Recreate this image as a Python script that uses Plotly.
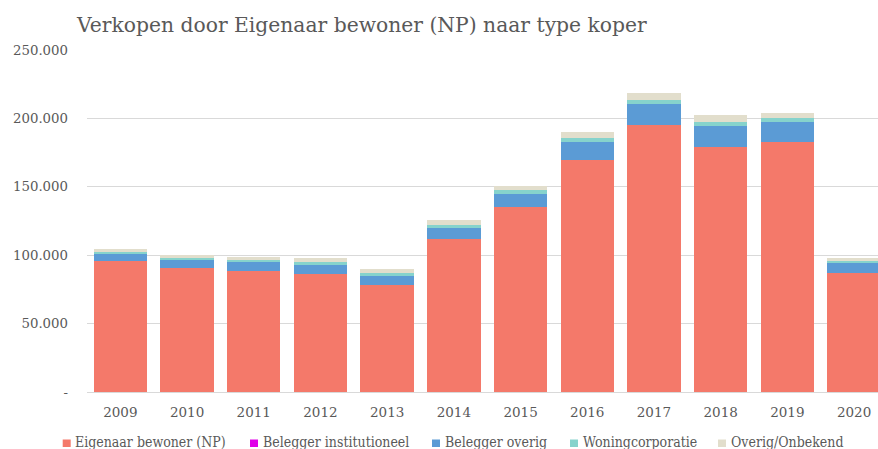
import plotly.graph_objects as go

years = ["2009", "2010", "2011", "2012", "2013", "2014", "2015", "2016", "2017", "2018", "2019", "2020"]
eigenaar = [95600, 91000, 88300, 86600, 78300, 111500, 135000, 169600, 194900, 179100, 182700, 87100]
institutioneel = [0, 0, 0, 0, 0, 0, 0, 0, 0, 0, 0, 0]
overig_belegger = [5600, 5800, 6800, 6600, 6600, 8500, 9700, 13100, 15300, 15600, 14600, 7800]
woningcorporatie = [1000, 1000, 1200, 1700, 2400, 2200, 2900, 2900, 3200, 2700, 2900, 1000]
overig_onbekend = [2200, 2200, 2400, 2900, 2400, 3400, 2700, 4100, 5100, 4900, 3600, 1700]

y_tickvals = [0, 50000, 100000, 150000, 200000, 250000]
y_ticktext = ["-", "50.000", "100.000", "150.000", "200.000", "250.000"]

series_names = ["Eigenaar bewoner (NP)", "Belegger institutioneel", "Belegger overig",
                "Woningcorporatie", "Overig/Onbekend"]
series_values = [eigenaar, institutioneel, overig_belegger, woningcorporatie, overig_onbekend]
series_colors = ["#F4796A", "#E000E8", "#5B9BD5", "#86D3CC", "#E2DECC"]

W, H = 878, 449
ML, MT, MB = 87, 50, 449 - 392
PW = W - ML
PH = H - MT - MB

def px(X):
    return (X - ML) / PW

def py(Y):
    return (392 - Y) / PH

font_family = "DejaVu Serif"
grey = "#595959"

fig = go.Figure()
for name, vals, col in zip(series_names, series_values, series_colors):
    fig.add_trace(go.Bar(x=years, y=vals, name=name,
                         marker=dict(color=col, line=dict(width=0))))

# one-row legend as in the reference
legend_square_x = [62.7, 250, 432, 570, 718]
shapes = []
annotations = []
for name, col, sx in zip(series_names, series_colors, legend_square_x):
    shapes.append(dict(type="rect", xref="paper", yref="paper",
                       x0=px(sx), x1=px(sx + 8), y0=py(447), y1=py(439.5),
                       fillcolor=col, line=dict(width=0), layer="above"))
    annotations.append(dict(text=name, xref="paper", yref="paper",
                            x=px(sx + 10.5), y=py(441.5), xanchor="left", yanchor="middle",
                            showarrow=False,
                            font=dict(family="DejaVu Serif Condensed, DejaVu Serif", size=14, color=grey)))

fig.update_layout(
    barmode="stack",
    bargap=0.2,
    width=W,
    height=H,
    margin=dict(l=ML, r=0, t=MT, b=MB, pad=0),
    paper_bgcolor="white",
    plot_bgcolor="white",
    showlegend=False,
    font=dict(family=font_family, color=grey),
    title=dict(
        text="Verkopen door Eigenaar bewoner (NP) naar type koper",
        x=77 / W, xanchor="left", xref="container",
        y=1 - 25 / H, yanchor="middle", yref="container",
        font=dict(family=font_family, size=20.3, color=grey),
    ),
    xaxis=dict(
        range=[-0.5, -0.5 + PW / 66.7],
        showgrid=False,
        showline=True,
        linecolor="#D9D9D9",
        linewidth=1,
        ticks="",
        tickangle=0,
        tickfont=dict(size=13.5, color=grey),
        ticklabelstandoff=8,
    ),
    yaxis=dict(
        range=[0, 250000],
        tickvals=y_tickvals,
        ticktext=y_ticktext,
        showgrid=True,
        gridcolor="#D9D9D9",
        gridwidth=1,
        zeroline=False,
        ticks="",
        tickfont=dict(size=13.3, color=grey),
        ticklabelstandoff=18,
    ),
    shapes=shapes,
    annotations=annotations,
)

fig.write_html(
    "out.html",
    config={"displayModeBar": False},
    post_script="document.body.style.margin='0';document.body.style.overflow='hidden';",
)
